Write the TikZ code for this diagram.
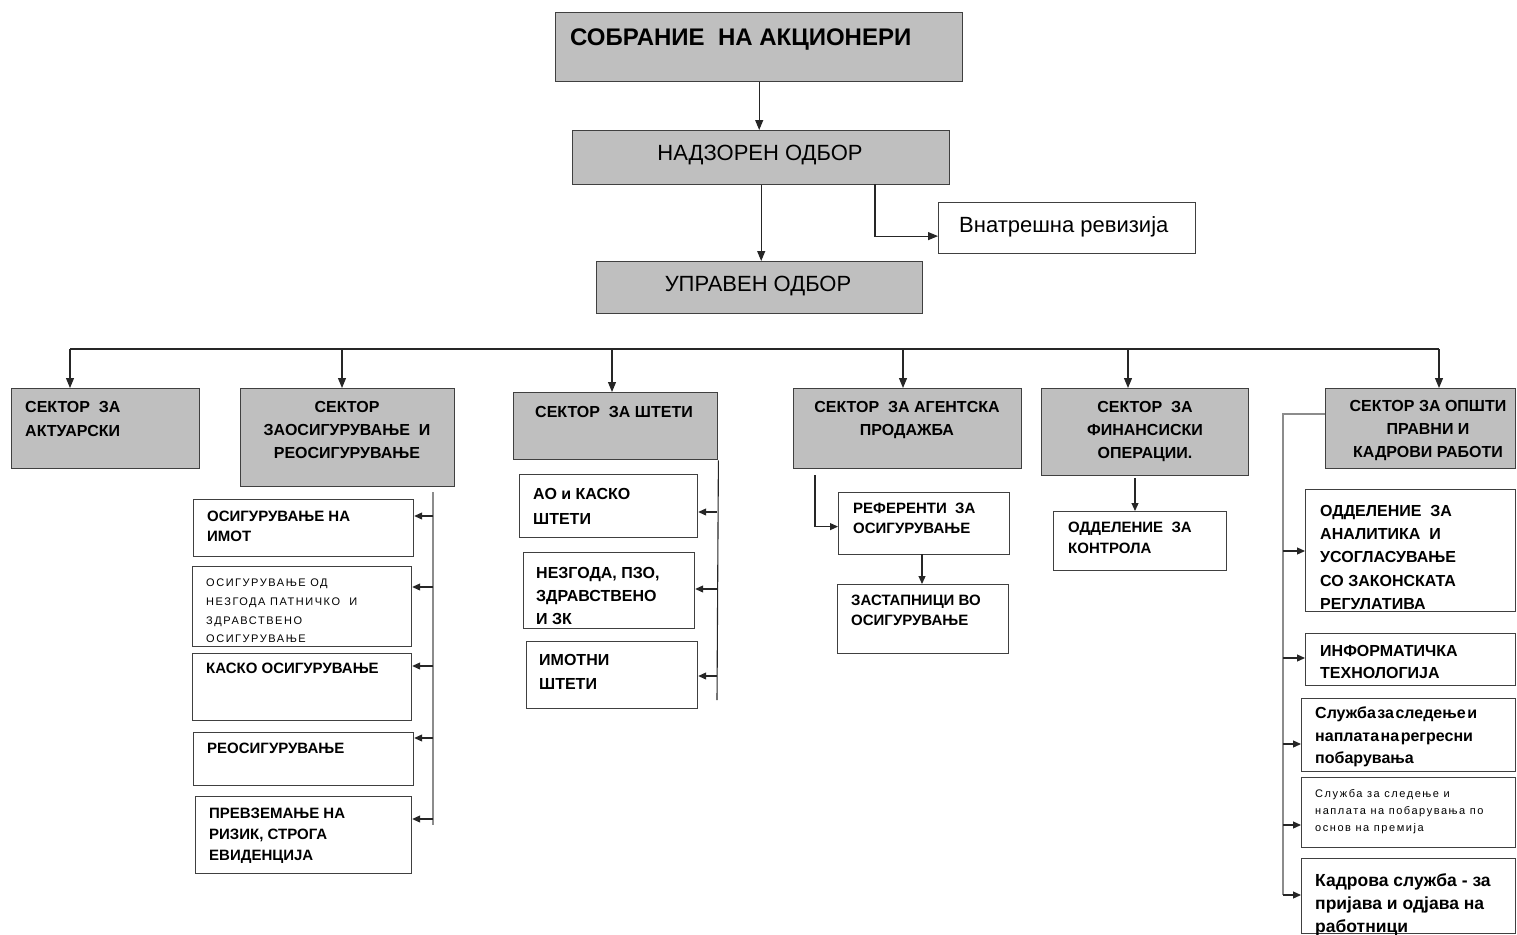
\documentclass[tikz,border=0pt]{standalone}
\usepackage{fontspec}
\setmainfont{Liberation Sans}
\newfontfamily\spacedfont[LetterSpace=14]{Liberation Sans}
\newcommand{\tightwords}{\spaceskip=1.5pt\relax}
\usetikzlibrary{arrows.meta}

\begin{document}
\begin{tikzpicture}[x=1pt, y=-1pt,
    gbox/.style={draw=black!75, fill=gray!50, line width=1.4pt, anchor=north west, inner sep=0pt},
    wbox/.style={draw=black!75, fill=white, line width=1.2pt, anchor=north west, inner sep=0pt},
    lbl/.style={inner sep=0pt, anchor=north west, align=left},
    clbl/.style={inner sep=0pt, anchor=north, align=center},
    sect/.style={font=\fontsize{16}{23}\selectfont\bfseries},
    sub/.style={font=\fontsize{15}{20}\selectfont\bfseries},
    conn/.style={line width=1.1pt, draw=black!85},
    arr/.style={conn, -{Triangle[length=10pt, width=8pt]}},
    sarr/.style={conn, -{Triangle[length=8pt, width=7pt]}},
  ]
  \useasboundingbox (0,0) rectangle (1517,934);

  % top of the tree
  \node[gbox, minimum width=407pt, minimum height=69pt] (sobr) at (555,12) {};
  \node[lbl, font=\fontsize{24}{28}\selectfont\bfseries] (sobr-t) at (570,29) {СОБРАНИЕ\ \ НА АКЦИОНЕРИ};
  \node[gbox, minimum width=377pt, minimum height=54pt] (nadz) at (572,130) {};
  \node[clbl, font=\fontsize{22}{26}\selectfont] (nadz-t) at (760,145) {НАДЗОРЕН ОДБОР};
  \node[wbox, minimum width=257pt, minimum height=51pt] (revi) at (938,202) {};
  \node[lbl, font=\fontsize{22}{26}\selectfont] (revi-t) at (959,216) {Внатрешна ревизија};
  \node[gbox, minimum width=326pt, minimum height=52pt] (uprav) at (596,261) {};
  \node[clbl, font=\fontsize{22}{26}\selectfont] (uprav-t) at (758,276) {УПРАВЕН ОДБОР};

  \draw[arr] (sobr.south) -- (sobr.south |- nadz.north);
  \draw[arr] (nadz.south) -- (nadz.south |- uprav.north);
  \coordinate (nr) at (875,184);
  \draw[arr] (nr) |- ([yshift=-8pt]revi.west);

  % sectors
  \node[gbox, minimum width=188pt, minimum height=80pt] (aktu) at (11,388) {};
  \node[lbl, sect, font=\fontsize{16}{24}\selectfont\bfseries] (aktu-t) at (25,401) {СЕКТОР\ \ ЗА\\АКТУАРСКИ};
  \node[gbox, minimum width=214pt, minimum height=98pt] (zaos) at (240,388) {};
  \node[clbl, sect] (zaos-t) at (347,401) {СЕКТОР\\ЗАОСИГУРУВАЊЕ\ \ И\\РЕОСИГУРУВАЊЕ};
  \node[gbox, minimum width=204pt, minimum height=67pt] (stet) at (513,392) {};
  \node[clbl, sect] (stet-t) at (614,406) {СЕКТОР\ \ ЗА ШТЕТИ};
  \node[gbox, minimum width=228pt, minimum height=80pt] (agen) at (793,388) {};
  \node[clbl, sect] (agen-t) at (907,401) {СЕКТОР\ \ ЗА АГЕНТСКА\\ПРОДАЖБА};
  \node[gbox, minimum width=207pt, minimum height=87pt] (fina) at (1041,388) {};
  \node[clbl, sect] (fina-t) at (1145,401) {СЕКТОР\ \ ЗА\\ФИНАНСИСКИ\\ОПЕРАЦИИ.};
  \node[gbox, minimum width=190pt, minimum height=80pt] (opst) at (1325,388) {};
  \node[clbl, sect] (opst-t) at (1428,400) {СЕКТОР ЗА ОПШТИ\\ПРАВНИ И\\КАДРОВИ РАБОТИ};

  \coordinate (bl) at (70,349);
  \coordinate (br) at (1439,349);
  \draw[conn] (bl) -- (br);
  \foreach \x/\n in {70/aktu, 342/zaos, 612/stet, 903/agen, 1128/fina, 1439/opst}
    \draw[arr] (\x,349) -- (\x,349 |- \n.north);

  % insurance sector
  \node[wbox, minimum width=220pt, minimum height=57pt] (imot) at (193,499) {};
  \node[lbl, sub] (imot-t) at (207,511) {ОСИГУРУВАЊЕ НА\\ИМОТ};
  \node[wbox, minimum width=219pt, minimum height=80pt] (nezg) at (192,566) {};
  \node[lbl, font=\fontsize{11}{18.7}\spacedfont] (nezg-t) at (206,579) {ОСИГУРУВАЊЕ ОД\\НЕЗГОДА ПАТНИЧКО\ \ И\\ЗДРАВСТВЕНО\\ОСИГУРУВАЊЕ};
  \node[wbox, minimum width=219pt, minimum height=67pt] (kask) at (192,653) {};
  \node[lbl, sub] (kask-t) at (206,663) {КАСКО ОСИГУРУВАЊЕ};
  \node[wbox, minimum width=220pt, minimum height=53pt] (reos) at (193,732) {};
  \node[lbl, sub] (reos-t) at (207,743) {РЕОСИГУРУВАЊЕ};
  \node[wbox, minimum width=216pt, minimum height=77pt] (prev) at (195,796) {};
  \node[lbl, sub, font=\fontsize{15}{20.7}\selectfont\bfseries] (prev-t) at (209,808) {ПРЕВЗЕМАЊЕ НА\\РИЗИК, СТРОГА\\ЕВИДЕНЦИЈА};

  \coordinate (zt1) at (433,492);
  \coordinate (zt2) at (433,825);
  \draw[conn, draw=black!45] (zt1) -- (zt2);
  \foreach \y/\n in {516/imot, 587/nezg, 666/kask, 738/reos, 819/prev}
    \draw[sarr] (433,\y) -- (\n.east |- 433,\y);

  % claims sector
  \node[wbox, minimum width=178pt, minimum height=63pt] (aokas) at (519,474) {};
  \node[lbl, font=\fontsize{16}{25.6}\selectfont\bfseries] (aokas-t) at (533,488) {АО и КАСКО\\ШТЕТИ};
  \node[wbox, minimum width=171pt, minimum height=76pt] (nzpzo) at (523,552) {};
  \node[lbl, font=\fontsize{16}{23.3}\selectfont\bfseries] (nzpzo-t) at (536,567) {НЕЗГОДА, ПЗО,\\ЗДРАВСТВЕНО\\И ЗК};
  \node[wbox, minimum width=171pt, minimum height=67pt] (imst) at (526,641) {};
  \node[lbl, font=\fontsize{16}{23.7}\selectfont\bfseries] (imst-t) at (539,654) {ИМОТНИ\\ШТЕТИ};

  \coordinate (st2) at (717,700);
  \draw[conn] (stet.south east) -- (st2);
  \foreach \y/\n in {512/aokas, 589/nzpzo, 676/imst}
    \draw[sarr] (717,\y) -- (\n.east |- 717,\y);

  % sales sector
  \node[wbox, minimum width=171pt, minimum height=62pt] (refe) at (838,492) {};
  \node[lbl, sub] (refe-t) at (853,503) {РЕФЕРЕНТИ\ \ ЗА\\ОСИГУРУВАЊЕ};
  \node[wbox, minimum width=171pt, minimum height=69pt] (zast) at (837,584) {};
  \node[lbl, sub] (zast-t) at (851,595) {ЗАСТАПНИЦИ ВО\\ОСИГУРУВАЊЕ};
  \coordinate (ag1) at (815,475);
  \draw[sarr] (ag1) |- ([yshift=-3pt]refe.west);
  \coordinate (rz) at (922,554);
  \draw[sarr] (rz) -- (rz |- zast.north);

  % finance sector
  \node[wbox, minimum width=173pt, minimum height=59pt] (kont) at (1053,511) {};
  \node[lbl, sub, font=\fontsize{15}{21}\selectfont\bfseries] (kont-t) at (1068,522) {ОДДЕЛЕНИЕ\ \ ЗА\\КОНТРОЛА};
  \coordinate (fk) at (1135,478);
  \draw[sarr] (fk) -- (fk |- kont.north);

  % general, legal and staff sector
  \node[wbox, minimum width=210pt, minimum height=122pt] (anal) at (1305,489) {};
  \node[lbl, font=\fontsize{16}{23.3}\selectfont\bfseries] (anal-t) at (1320,505) {ОДДЕЛЕНИЕ\ \ ЗА\\АНАЛИТИКА\ \ И\\УСОГЛАСУВАЊЕ\\СО ЗАКОНСКАТА\\РЕГУЛАТИВА};
  \node[wbox, minimum width=210pt, minimum height=52pt] (info) at (1305,633) {};
  \node[lbl, font=\fontsize{16}{21.7}\selectfont\bfseries] (info-t) at (1320,645) {ИНФОРМАТИЧКА\\ТЕХНОЛОГИЈА};
  \node[wbox, minimum width=214pt, minimum height=73pt] (regr) at (1301,698) {};
  \node[lbl, font=\fontsize{16}{22.5}\selectfont\bfseries\tightwords] (regr-t) at (1315,707) {Служба за следење и\\наплата на регресни\\побарувања};
  \node[wbox, minimum width=214pt, minimum height=70pt] (prem) at (1301,777) {};
  \node[lbl, font=\fontsize{11}{17}\spacedfont] (prem-t) at (1315,789) {Служба за следење и\\наплата на побарувања по\\основ на премија};
  \node[wbox, minimum width=214pt, minimum height=75pt] (kadr) at (1301,858) {};
  \node[lbl, font=\fontsize{17.5}{23.3}\selectfont\bfseries] (kadr-t) at (1315,873) {Кадрова служба - за\\пријава и одјава на\\работници};

  \coordinate (op1) at (1325,414);
  \coordinate (op2) at (1283,414);
  \coordinate (op3) at (1283,895);
  \draw[conn, draw=black!45] (op1) -- (op2) -- (op3);
  \foreach \y/\n in {551/anal, 658/info, 744/regr, 825/prem, 895/kadr}
    \draw[sarr] (1283,\y) -- (\n.west |- 1283,\y);
\end{tikzpicture}
\end{document}
